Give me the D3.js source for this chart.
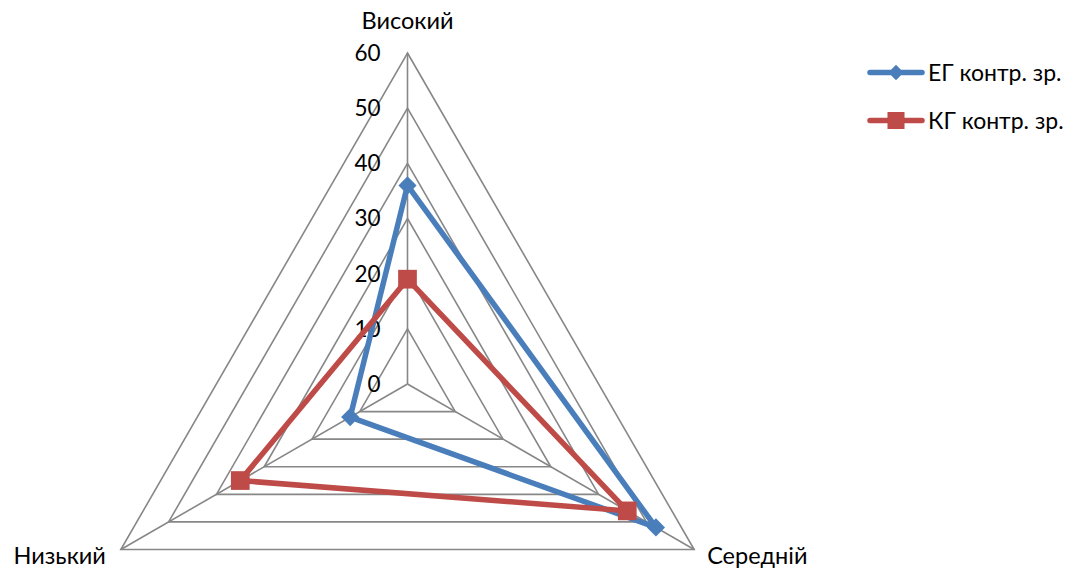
<!DOCTYPE html>
<html>
<head>
<meta charset="utf-8">
<script src="https://cdnjs.cloudflare.com/ajax/libs/d3/7.8.5/d3.min.js"></script>
<style>
  html, body { margin: 0; padding: 0; background: #fff; }
  svg { display: block; font-family: Lato, "Open Sans", sans-serif; }
</style>
</head>
<body>
<svg id="chart" width="1082" height="568"></svg>
<script>
// Radar chart: three levels, two groups
const categories = ["Високий", "Середній", "Низький"];
const seriesNames = ["ЕГ контр. зр.", "КГ контр. зр."];
const egValues = [36, 52, 12];
const kgValues = [19, 46, 35];
const tickValues = [0, 10, 20, 30, 40, 50, 60];

const colors = ["#4a7ebb", "#be4b48"];
const svg = d3.select("#chart");
const cx = 407.5, cy = 384, radius = 331;

const r = d3.scaleLinear().domain([0, 60]).range([0, radius]);
const angle = d3.scalePoint().domain(categories).range([0, 2 * Math.PI * 2 / 3]);
const pt = (cat, v) => {
  const a = angle(cat);
  return [cx + r(v) * Math.sin(a), cy - r(v) * Math.cos(a)];
};

// Grid rings
const grid = svg.append("g").attr("stroke", "#878787").attr("stroke-width", 1.6).attr("fill", "none");
tickValues.filter(t => t > 0).forEach(t => {
  grid.append("path").attr("d", d3.line()(categories.map(c => pt(c, t))) + "Z");
});
// Spokes
categories.forEach(c => {
  const [x, y] = pt(c, 60);
  grid.append("line").attr("x1", cx).attr("y1", cy).attr("x2", x).attr("y2", y);
});

// Tick labels
svg.append("g").selectAll("text").data(tickValues).join("text")
  .attr("x", cx - 27).attr("y", d => cy - r(d))
  .attr("dy", "0.35em").attr("text-anchor", "end")
  .attr("font-size", 22.5).attr("fill", "#000").text(d => d);

// Category labels (y offsets are baseline offsets from the outer vertex)
const catPos = {
  "Високий": { dx: 0, dy: -24, anchor: "middle" },
  "Середній": { dx: 13, dy: 14, anchor: "start" },
  "Низький": { dx: -15, dy: 14, anchor: "end" }
};
categories.forEach(c => {
  const [x, y] = pt(c, 60);
  const p = catPos[c];
  svg.append("text").attr("x", x + p.dx).attr("y", y + p.dy)
    .attr("text-anchor", p.anchor)
    .attr("font-size", 23.5).attr("fill", "#000").text(c);
});

const diamond = d3.symbol().type(d3.symbolDiamond2).size(210);
const square = d3.symbol().type(d3.symbolSquare).size(350);

const allSeries = [egValues, kgValues];
allSeries.forEach((vals, i) => {
  const pts = categories.map((c, k) => pt(c, vals[k]));
  svg.append("path").attr("d", d3.line()(pts) + "Z")
    .attr("fill", "none").attr("stroke", colors[i]).attr("stroke-width", 5.5)
    .attr("stroke-linejoin", "round");
  svg.append("g").selectAll("path").data(pts).join("path")
    .attr("transform", d => `translate(${d[0]},${d[1]})`)
    .attr("d", i === 0 ? diamond() : square())
    .attr("fill", colors[i]);
});

// Legend
const legend = svg.append("g");
seriesNames.forEach((name, i) => {
  const y = 72.5 + i * 48;
  legend.append("line").attr("x1", 870).attr("x2", 922).attr("y1", y).attr("y2", y)
    .attr("stroke", colors[i]).attr("stroke-width", 5.5).attr("stroke-linecap", "round");
  legend.append("path").attr("transform", `translate(896,${y})`)
    .attr("d", i === 0 ? d3.symbol().type(d3.symbolDiamond2).size(150)() : d3.symbol().type(d3.symbolSquare).size(290)())
    .attr("fill", colors[i]);
  legend.append("text").attr("x", 928).attr("y", y).attr("dy", "0.35em")
    .attr("font-size", 23).attr("fill", "#000").text(name);
});
</script>
</body>
</html>
